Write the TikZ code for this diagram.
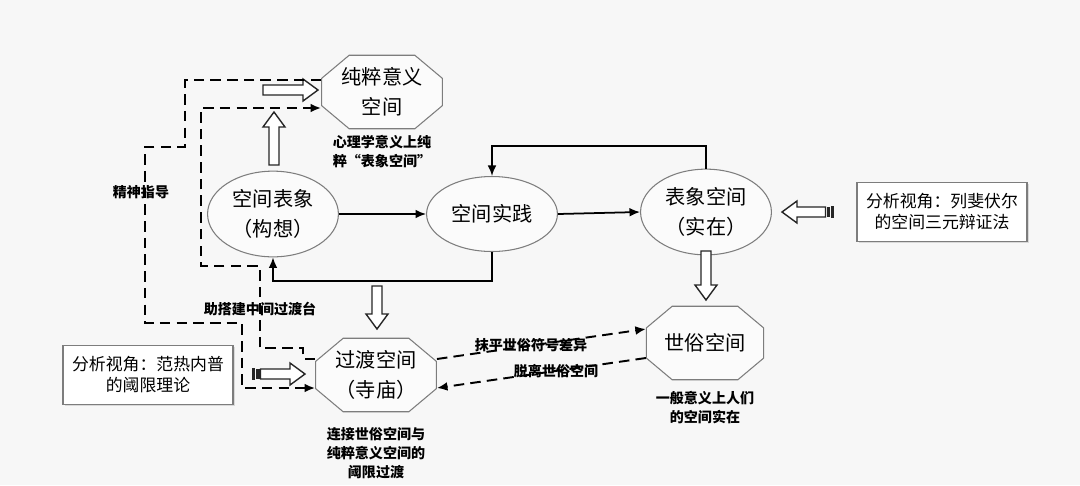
\documentclass[tikz,border=0pt]{standalone}
\usepackage{fontspec}
\setmainfont{Noto Sans CJK SC}
\usetikzlibrary{arrows.meta, positioning, shapes.geometric, shapes.misc, calc, shadows}
\definecolor{fundo}{RGB}{247,247,247}
\definecolor{contorno}{RGB}{125,125,125}

% seta oca (contorno preto, interior branco)
\newcommand{\setaoca}[2]{%
  \coordinate (so-h) at ($(#2)!0.3cm!(#1)$);
  \draw[oca] ($(#1)!0.1cm!90:(#2)$) -- ($(so-h)!0.1cm!-90:(#1)$)
    -- ($(so-h)!0.22cm!-90:(#1)$) -- (#2)
    -- ($(so-h)!0.22cm!90:(#1)$) -- ($(so-h)!0.1cm!90:(#1)$)
    -- ($(#1)!0.1cm!-90:(#2)$) -- cycle;
}
% seta oca com listras na cauda
\newcommand{\setalistrada}[2]{%
  \coordinate (sl-t) at ($(#1)!0.15cm!(#2)$);
  \setaoca{sl-t}{#2}
  \coordinate (sl-a) at (#1);
  \coordinate (sl-b) at ($(#1)!0.035cm!(#2)$);
  \coordinate (sl-c) at ($(#1)!0.06cm!(#2)$);
  \coordinate (sl-d) at ($(#1)!0.13cm!(#2)$);
  \draw[oca] ($(sl-a)!0.1cm!90:(#2)$) -- ($(sl-b)!0.1cm!90:(#2)$)
    -- ($(sl-b)!0.1cm!-90:(#2)$) -- ($(sl-a)!0.1cm!-90:(#2)$) -- cycle;
  \fill[black!85] ($(sl-c)!0.1cm!90:(#2)$) -- ($(sl-d)!0.1cm!90:(#2)$)
    -- ($(sl-d)!0.1cm!-90:(#2)$) -- ($(sl-c)!0.1cm!-90:(#2)$) -- cycle;
}

\begin{document}
\begin{tikzpicture}[
    x=0.02cm, y=-0.02cm,
    elipse/.style={
        ellipse,
        draw=contorno,
        line width=0.6pt,
        fill=white!50!fundo,
        minimum width=2.44cm,
        minimum height=1.5cm,
        align=center,
        font=\fontsize{11.5}{17}\selectfont
    },
    octo/.style={
        chamfered rectangle,
        chamfered rectangle angle=50,
        chamfered rectangle xsep=0.4cm,
        inner xsep=0pt,
        draw=contorno,
        line width=0.6pt,
        fill=white!50!fundo,
        minimum height=1.47cm,
        align=center,
        font=\fontsize{11.5}{17}\selectfont
    },
    caixa/.style={
        draw=contorno,
        line width=0.6pt,
        fill=white,
        minimum width=3.4cm,
        minimum height=1.18cm,
        align=center,
        font=\fontsize{9.6}{12}\selectfont,
        drop shadow={opacity=0.25, shadow xshift=1pt, shadow yshift=-1pt}
    },
    nota/.style={
        font=\bfseries\fontsize{8}{10.8}\selectfont
    },
    rotulo/.style={
        font=\bfseries\fontsize{8}{10}\selectfont
    },
    seta/.style={
        -{Latex[length=6pt,width=5pt]},
        line width=1pt
    },
    tracejada/.style={
        seta,
        line width=1.1pt,
        dash pattern=on 6pt off 3.5pt
    },
    oca/.style={
        draw=black!85,
        line width=0.8pt,
        fill=white
    }
]

% fundo / limites
\fill[fundo] (0,0) rectangle (1080,485);

% =================================================
% LINHA CENTRAL - TRIADE DE LEFEBVRE
% =================================================

\node[elipse] (repr) at (273,214)
{空间表象\\（构想）};

\node[elipse] (prat) at (492,214)
{空间实践};

\node[elipse] (real) at (706,212)
{表象空间\\（实在）};

\node[caixa] (caixaD) at (942,212)
{分析视角：列斐伏尔\\的空间三元辩证法};

\draw[seta] (repr.east) -- (prat.west);
\draw[seta] (prat.east) -- (real.west);
\draw[seta] (real.north) -- ++(0,-23) -| (prat.north);
\draw[seta] (prat.south) -- ++(0,29) -| (repr.south);


% =================================================
% ESPACOS OCTOGONAIS
% =================================================

\node[octo] (puro) at (382,92)
{纯粹意义\\空间};

\node[nota, align=left, below=0pt of puro] (notaPuro)
{心理学意义上纯\\粹“表象空间”};

\node[octo] (trans) at (376,375)
{过渡空间\\（寺庙）};

\node[nota, align=center, below=0.18cm of trans] (notaTrans)
{连接世俗空间与\\纯粹意义空间的\\阈限过渡};

\node[octo] (secular) at (705,343)
{世俗空间};

\node[nota, align=center, below=0.1cm of secular] (notaSec)
{一般意义上人们\\的空间实在};

\node[caixa] (caixaE) at (148,375)
{分析视角：范热内普\\的阈限理论};


% =================================================
% SETAS OCAS
% =================================================

\coordinate (c1) at (274,165);
\coordinate (c2) at (274,112);
\coordinate (c3) at (263,90);
\coordinate (c4) at (318,90);
\coordinate (c5) at (377,286);
\coordinate (c6) at (377,329);
\coordinate (c7) at (706,251);
\coordinate (c8) at (706,300);
\coordinate (c9) at (833,212);
\coordinate (c10) at (782,212);
\coordinate (c11) at (253,374);
\coordinate (c12) at (305,374);

\setaoca{c1}{c2}
\setaoca{c3}{c4}
\setaoca{c5}{c6}
\setaoca{c7}{c8}
\setalistrada{c9}{c10}
\setalistrada{c11}{c12}


% =================================================
% LIGACOES TRACEJADAS
% =================================================

% Espiritual
\draw[tracejada] ($(puro.west)+(0,-12)$) -| (185,147) -| (145,323)
    -| (242,388) -- ($(trans.west)+(0,13)$);
\node[rotulo] (lblGuia) at (141,192) {精神指导};

% Passagem
\draw[tracejada] ($(trans.west)+(0,-16)$) -| (303,348) -| (260,266)
    -| (201,108) -- ($(puro.west)+(0,16)$);
\node[rotulo] (lblPonte) at (260,309) {助搭建中间过渡台};

% Entre trans e secular
\draw[tracejada] ($(trans.east)+(0,-16)$) -- node[rotulo, pos=0.45] {抹平世俗符号差异}
    ($(secular.west)+(0,-14)$);
\draw[tracejada] ($(secular.west)+(0,15)$) -- node[rotulo, pos=0.43] {脱离世俗空间}
    ($(trans.east)+(0,13)$);

\end{tikzpicture}
\end{document}
